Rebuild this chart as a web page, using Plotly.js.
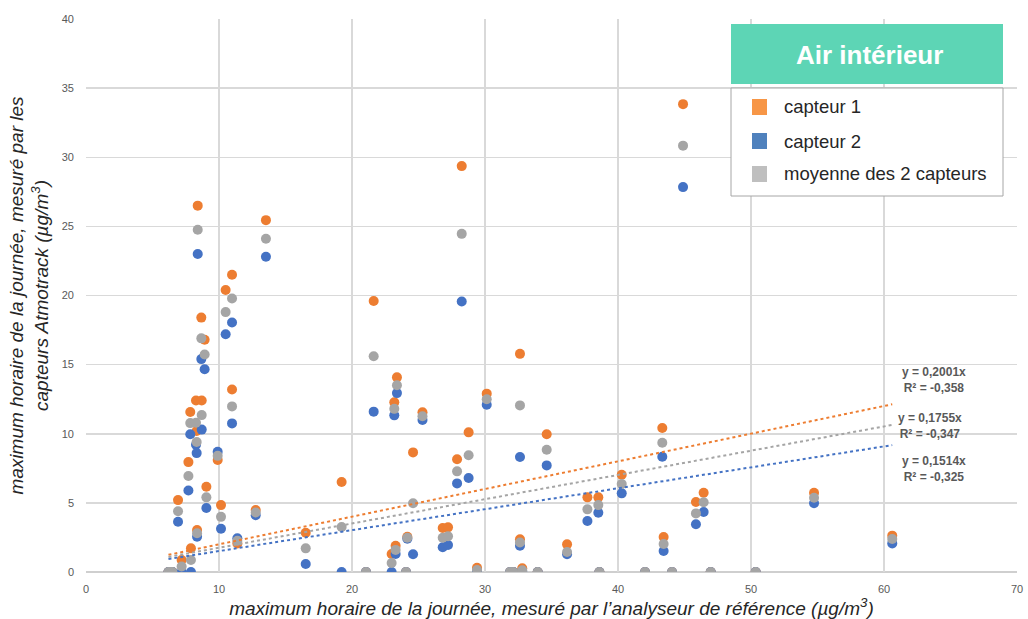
<!DOCTYPE html>
<html>
<head>
<meta charset="utf-8">
<script src="https://cdn.plot.ly/plotly-3.0.1.min.js"></script>
<style>html,body{margin:0;padding:0;background:#fff;}#chart{width:1028px;height:619px;}</style>
</head>
<body>
<div id="chart"></div>
<script>
// Reference analyser values (x) and sensor values (y)
var xRef = [6.2, 6.35, 6.5, 6.92, 7.19, 7.7, 7.84, 7.89, 8.27, 8.32, 8.35, 8.4, 8.67, 8.7, 8.92, 9.05, 9.9, 10.15, 10.5, 10.98, 10.98, 11.38, 12.76, 13.53,
  16.52, 19.22, 21.05, 21.63, 22.98, 23.18, 23.28, 23.38, 24.06, 24.16, 24.59, 25.3, 26.82, 27.22, 27.9, 28.25, 28.77, 29.4,
  30.13, 31.88, 32.13, 32.63, 32.63, 32.8, 33.96, 34.64, 36.17, 37.7, 38.52, 38.6, 40.28, 42.03, 43.33, 43.43, 44.06, 44.89,
  45.86, 46.44, 46.97, 50.35, 54.74, 60.62];
var capteur1 = [0, 0, 0, 5.2, 0.87, 7.95, 11.57, 1.71, 12.4, 10.2, 3.04, 26.5, 18.4, 12.4, 16.8, 6.17, 8.1, 4.84, 20.4, 21.5, 13.2, 2.07, 4.48, 25.45,
  2.84, 6.51, 0, 19.6, 1.3, 12.27, 1.9, 14.08, 0, 2.55, 8.65, 11.55, 3.18, 3.23, 8.15, 29.36, 10.1, 0.3,
  12.9, 0, 0, 15.78, 2.36, 0.27, 0, 9.96, 2.0, 5.4, 5.4, 0, 7.04, 0, 10.41, 2.53, 0, 33.84,
  5.06, 5.73, 0, 0, 5.73, 2.63];
var capteur2 = [0, 0, 0, 3.64, 0, 5.9, 9.96, 0, 9.2, 8.6, 2.55, 23.0, 15.4, 10.3, 14.66, 4.63, 8.7, 3.13, 17.2, 18.05, 10.75, 2.44, 4.1, 22.8,
  0.58, 0, 0, 11.6, 0, 11.33, 1.3, 12.94, 0, 2.41, 1.28, 10.99, 1.79, 1.95, 6.41, 19.57, 6.8, 0,
  12.1, 0, 0, 8.32, 1.9, 0, 0, 7.71, 1.28, 3.69, 4.29, 0, 5.69, 0, 8.34, 1.52, 0, 27.84,
  3.45, 4.34, 0, 0, 4.97, 2.07];
var moyenne = [0, 0, 0, 4.4, 0.4, 6.94, 10.77, 0.87, 10.8, 9.4, 2.8, 24.75, 16.9, 11.35, 15.73, 5.4, 8.4, 3.99, 18.8, 19.78, 11.98, 2.26, 4.3, 24.1,
  1.71, 3.26, 0, 15.6, 0.65, 11.8, 1.6, 13.51, 0, 2.48, 4.97, 11.27, 2.48, 2.59, 7.28, 24.46, 8.45, 0.15,
  12.5, 0, 0, 12.05, 2.13, 0.13, 0, 8.84, 1.45, 4.53, 4.84, 0, 6.36, 0, 9.35, 2.02, 0, 30.84,
  4.24, 5.04, 0, 0, 5.37, 2.39];

var seriesNames = ['capteur 1', 'capteur 2', 'moyenne des 2 capteurs'];
var slopes = [0.2001, 0.1514, 0.1755];
var r2 = ['-0,358', '-0,325', '-0,347'];
var slopeLabels = ['0,2001', '0,1514', '0,1755'];

var xTicks = [0, 10, 20, 30, 40, 50, 60, 70];
var yTicks = [0, 5, 10, 15, 20, 25, 30, 35, 40];

var pointColors = ['#ED7D31', '#4472C4', '#A5A5A5'];
var legendColors = ['#F79646', '#4F81BD', '#BFBFBF'];
var ys = [capteur1, capteur2, moyenne];

var xMin = Math.min.apply(null, xRef), xMax = Math.max.apply(null, xRef);

var traces = [];
// draw order: capteur 1, capteur 2, moyenne (on top)
for (var i = 0; i < 3; i++) {
  traces.push({
    type: 'scatter', mode: 'markers', name: seriesNames[i],
    x: xRef, y: ys[i],
    marker: {color: pointColors[i], size: 10},
    showlegend: false, hoverinfo: 'x+y'
  });
}
for (var j = 0; j < 3; j++) {
  traces.push({
    type: 'scatter', mode: 'lines', name: 'tendance ' + seriesNames[j],
    x: [xMin, xMax], y: [slopes[j] * xMin, slopes[j] * xMax],
    line: {color: pointColors[j], width: 2, dash: 'dot'},
    showlegend: false, hoverinfo: 'skip'
  });
}

// plot area pixels: left 86, right 1017, top 19, bottom 572
function px(x) { return (x - 86) / 931; }
function py(y) { return (572 - y) / 553; }

var annotations = [];
var shapes = [];

// trendline equations
var eqPos = [[934, 380], [934, 469], [930, 426]];
for (var k = 0; k < 3; k++) {
  annotations.push({
    xref: 'paper', yref: 'paper', x: px(eqPos[k][0]), y: py(eqPos[k][1]),
    xanchor: 'center', yanchor: 'middle', showarrow: false,
    text: '<b>y = ' + slopeLabels[k] + 'x<br>R² = ' + r2[k] + '</b>',
    font: {family: 'Liberation Sans, Arial, sans-serif', size: 12, color: '#595959'}
  });
}

// legend title box
shapes.push({type: 'rect', xref: 'paper', yref: 'paper', x0: px(731), x1: px(1003), y0: py(84), y1: py(24),
  fillcolor: '#5DD5B5', line: {width: 0}, layer: 'above'});
annotations.push({xref: 'paper', yref: 'paper', x: px(869), y: py(55), xanchor: 'center', yanchor: 'middle',
  showarrow: false, text: '<b>Air intérieur</b>',
  font: {family: 'Liberation Sans, Arial, sans-serif', size: 26, color: '#ffffff'}});
// legend box
shapes.push({type: 'rect', xref: 'paper', yref: 'paper', x0: px(731), x1: px(1003), y0: py(196), y1: py(88),
  fillcolor: '#ffffff', line: {width: 1, color: '#A6A6A6'}, layer: 'above'});
var legY = [107, 141, 174];
for (var m = 0; m < 3; m++) {
  shapes.push({type: 'rect', xref: 'paper', yref: 'paper', x0: px(752), x1: px(767), y0: py(legY[m] + 8), y1: py(legY[m] - 8),
    fillcolor: legendColors[m], line: {width: 0}, layer: 'above'});
  annotations.push({xref: 'paper', yref: 'paper', x: px(782), y: py(legY[m]), xanchor: 'left', yanchor: 'middle',
    showarrow: false, text: seriesNames[m],
    font: {family: 'Liberation Sans, Arial, sans-serif', size: 18.5, color: '#262626'}});
}

var layout = {
  width: 1028, height: 619,
  margin: {l: 86, r: 11, t: 19, b: 47},
  paper_bgcolor: '#ffffff', plot_bgcolor: '#ffffff',
  font: {family: 'Liberation Sans, Arial, sans-serif', color: '#595959'},
  showlegend: false,
  xaxis: {
    range: [0, 70], tickvals: xTicks, ticktext: xTicks.map(String),
    showgrid: true, gridcolor: '#D9D9D9', gridwidth: 1.5,
    zeroline: false, showline: false, ticks: '',
    ticklabelstandoff: 9,
    tickfont: {size: 11, color: '#595959'},
    title: {text: '<i>maximum horaire de la journée, mesuré par l’analyseur de référence (µg/m<sup>3</sup>)</i>',
      font: {size: 19, color: '#262626'}, standoff: 4}
  },
  yaxis: {
    range: [0, 40], tickvals: yTicks, ticktext: yTicks.map(String),
    showgrid: true, gridcolor: '#D9D9D9', gridwidth: 1.5,
    zeroline: false, showline: false, ticks: '',
    ticklabelstandoff: 11,
    tickfont: {size: 11, color: '#595959'},
    title: {text: '<i>maximum horaire de la journée, mesuré par les<br>capteurs Atmotrack (µg/m<sup>3</sup>)</i>',
      font: {size: 19, color: '#262626'}, standoff: 8}
  },
  shapes: shapes.concat([
    {type: 'line', xref: 'paper', yref: 'paper', x0: 0, x1: 1, y0: 0, y1: 0, line: {color: '#BFBFBF', width: 1.5}, layer: 'below'}
  ]),
  annotations: annotations
};

Plotly.newPlot('chart', traces, layout, {displayModeBar: false, staticPlot: true});
</script>
</body>
</html>
